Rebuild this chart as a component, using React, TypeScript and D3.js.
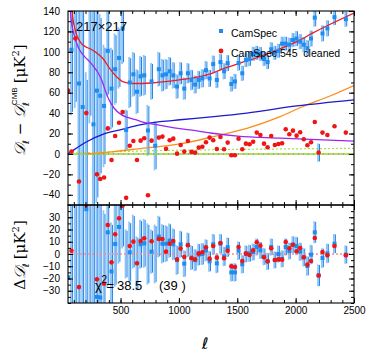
import { useEffect, useRef } from 'react'
import * as d3 from 'd3'

// multipole bins
const ells = [50, 80, 113, 144, 176, 207, 238, 268, 298, 326, 359, 391, 423, 454, 487, 518, 548, 579, 610, 641,
  672, 703, 735, 766, 797, 828, 859, 890, 921, 952, 984, 1015, 1046, 1077, 1108, 1139, 1170, 1201, 1232, 1263,
  1294, 1325, 1356, 1387, 1418, 1449, 1480, 1511, 1543, 1574, 1605, 1636, 1667, 1698, 1729, 1760, 1791, 1822, 1853, 1884,
  1915, 1946, 1977, 2008, 2039, 2070, 2101, 2132, 2164, 2197, 2230, 2272, 2333, 2430]

// top panel: D_l - D_l^CMB
const camSpec: (number | null)[] = [null, 102, 165, 69, 46, -70, 180, 29, 62, 57, 47, 101, 64, 83, 94, 123, 23.5, 70, 78, 61,
  76, 77, 23, 71, 8, 83, 77, 78, 81, 77, 66, 79, 64, 79, 72.5, 68, 72.5, 74, 82, 74,
  88, 72.5, 90, 81, 89, 68.5, 71, 89, 79, 92, 93, 98, 99, 98, 93, 90, 102.5, 99, 101, 108,
  108, 107, 111.6, 113, 110, 107, 103.5, 113, 133.5, null, 118, 123, 134, 132]
const cleaned545: (number | null)[] = [62, 2.3, 113, -27, null, 40, null, null, -20, -24.5, -23, 25, -6, 17.6, 30.6, 41, -43, 8, 12.7, -6,
  13, 15.4, -40.4, 13, null, 16, 17, 5, 13.4, 15, 0.3, 8.8, 2.3, 12.7, 2, 1.3, 6.2, 7, 11.5, 16,
  13.4, 4.9, 16.6, 4.6, 11.1, -1.3, -1.3, 15, 4.6, 10.1, 9.5, 12, 20.9, 18.6, 10.1, 6.6, 17.6, 8.8, 9.8, 10.5,
  24.2, 19.3, 22.8, 17.9, 21.2, 14.4, 8.5, 11.5, 31.3, 1.3, 20.9, 18.6, 27.1, 20.9]
const errors = [0, 64, 120, 150, 150, 150, 150, 150, 110, 80, 60, 45, 40, 35, 30, 35, 20, 25, 22, 22,
  20, 20, 25, 18, 24, 17, 16, 15, 14, 13, 12, 11, 11, 10, 10, 9, 9, 9, 9, 8.5,
  8.5, 8, 8, 8, 8, 7.5, 7.5, 7.5, 7.5, 7, 7, 7, 7, 7, 7, 7, 7, 7, 7, 7,
  7, 7, 7, 7.5, 7.5, 7.5, 8, 8, 9, 9, 8, 8, 8, 7.5]

// bottom panel: residuals
const resCamSpec: (number | null)[] = [-19, null, null, null, null, 36.6, null, null, -35, -35.5, null, 17.7, -14.2, 8.2, 22.1, null, null, 1.4, null, null,
  7.9, 8.7, null, 1.9, null, 14.2, 8.4, 8.4, 10.9, 7.9, -5, 7.9, -7.9, 7.5, -3, -5, -0.5, 0, 3, -6,
  7.9, -7.6, 8.4, -2, 5.5, -15, -15, 2.7, -8.4, 0, 0.5, 1.6, 5.7, 3, -2.2, -6, 5.7, -4.9, 0, -4,
  5.7, 2.4, 7.6, 6.5, 1.9, -2.7, -9.8, -0.5, 17.7, -17.5, -3.3, 0.5, 8.4, -0.5]
const resCleaned: (number | null)[] = [null, 2.7, null, -27, null, 40, null, null, -20.7, null, -24.3, 23.7, -6.8, 16.1, 29.2, 39.5, null, 6.5, 10.1, -7.6,
  10.6, 12.8, null, 10.4, null, 12.3, 12.3, 1.9, 8.4, 10.6, -4.4, 4.4, -2.5, 7.1, -3.5, -4.4, 0.5, 1.4, 5.5, -3.8,
  6.5, -3, 9, -3.5, 2.7, -10.1, -10.6, 5.7, -5.7, 0.5, -0.8, 3, 9.6, 6.8, -2.7, -6, 4.6, -4.9, -4.4, -4.6,
  9.8, 4.6, 7.6, 2.2, 4.9, -2.7, -8.7, -5.7, 13.1, -17.5, 1.6, -1.1, 6.5, -1.1]

// foreground model curves [ell, D_l]
const totalModel: [number, number][] = [[84, 150], [90, 135], [110, 122], [153, 110], [200, 105], [239, 103], [296, 99],
  [353, 93], [405, 84], [467, 75.5], [524, 70.5], [610, 69], [760, 69.5], [861, 70.5], [1004, 72.5], [1147, 75],
  [1284, 79], [1393, 84], [1536, 89.4], [1679, 94.7], [1822, 101], [2010, 110], [2153, 118.8], [2296, 127], [2500, 138]]
const dustModel: [number, number][] = [[68, 150], [74, 135], [101, 117], [144, 103], [187, 96], [239, 90], [273, 85],
  [305, 80], [340, 72], [370, 62], [401, 53], [444, 45], [500, 39], [553, 36], [630, 33.5], [700, 31], [840, 28],
  [960, 25.5], [1095, 23.5], [1270, 20.5], [1503, 17.5], [1867, 15.5], [2500, 12.5]]
const cibModel: [number, number][] = [[50, 0], [100, 4], [210, 12], [353, 19.5], [496, 23.5], [667, 28.4], [839, 31.6],
  [1010, 33.5], [1300, 36.5], [1582, 40], [2010, 47], [2500, 53]]
const psModel: [number, number][] = [[200, 0], [444, 2.3], [650, 5], [1010, 9.8], [1296, 17], [1582, 25], [1867, 36.5],
  [2053, 46], [2300, 57], [2500, 67]]
const szModel: [number, number][] = [[50, 0.5], [300, 1.5], [700, 3], [1200, 4], [1800, 4.8], [2500, 5.5]]
const zeroLine: [number, number][] = [[50, 0], [2500, 0]]

const xMajor = [500, 1000, 1500, 2000, 2500]
const topLabels = [-40, -20, 0, 20, 40, 60, 80, 100, 120, 140]
const botLabels = [-30, -20, -10, 0, 10, 20, 30]

const FONT = 'Liberation Sans, Arial, sans-serif'

const App = () => {
  const svgRef = useRef<SVGSVGElement>(null)

  useEffect(() => {
    const svg = d3.select(svgRef.current)
    svg.selectAll('*').remove()

    const left = 68, right = 354
    const topY0 = 11, topY1 = 205, botY1 = 303

    const x = d3.scaleLinear().domain([50, 2500]).range([left, right])
    const yTop = d3.scaleLinear().domain([-50, 140]).range([topY1, topY0])
    const yBot = d3.scaleLinear().domain([-40, 40]).range([botY1, topY1])

    const defs = svg.append('defs')
    defs.append('clipPath').attr('id', 'clipTop').append('rect')
      .attr('x', left).attr('y', topY0).attr('width', right - left).attr('height', topY1 - topY0)
    defs.append('clipPath').attr('id', 'clipBot').append('rect')
      .attr('x', left).attr('y', topY1).attr('width', right - left).attr('height', botY1 - topY1)

    const drawPanel = (
      y: d3.ScaleLinear<number, number>, clip: string,
      blue: (number | null)[], red: (number | null)[], fallback: number
    ) => {
      const g = svg.append('g').attr('clip-path', `url(#${clip})`)
      ells.forEach((l, i) => {
        const e = errors[i]
        if (!e) return
        const c = blue[i] ?? red[i] ?? fallback
        g.append('line')
          .attr('x1', x(l) - 0.6).attr('x2', x(l) - 0.6)
          .attr('y1', y(c - e)).attr('y2', y(c + e))
          .attr('stroke', '#8cc6f6').attr('stroke-width', 1.8)
        g.append('line')
          .attr('x1', x(l) + 0.9).attr('x2', x(l) + 0.9)
          .attr('y1', y(c - e * 0.95)).attr('y2', y(c + e * 0.95))
          .attr('stroke', '#2680e6').attr('stroke-width', 1)
      })
      return g
    }

    // ---- top panel
    const gTop = drawPanel(yTop, 'clipTop', camSpec, cleaned545, 45)
    const line = d3.line<[number, number]>()
      .x(d => x(d[0])).y(d => yTop(d[1])).curve(d3.curveMonotoneX)

    gTop.append('path').datum(zeroLine).attr('d', line).attr('fill', 'none')
      .attr('stroke', '#86e01e').attr('stroke-width', 1.6)
    gTop.append('path').datum(zeroLine).attr('d', line).attr('fill', 'none')
      .attr('stroke', '#ff30ff').attr('stroke-width', 1).attr('stroke-dasharray', '1,4')
    gTop.append('path').datum(szModel).attr('d', line).attr('fill', 'none')
      .attr('stroke', '#9be04a').attr('stroke-width', 1.2).attr('stroke-dasharray', '2,2')
    gTop.append('path').datum(psModel).attr('d', line).attr('fill', 'none')
      .attr('stroke', '#ff8c1a').attr('stroke-width', 1.3)
    gTop.append('path').datum(cibModel).attr('d', line).attr('fill', 'none')
      .attr('stroke', '#1a1acc').attr('stroke-width', 1.3)
    gTop.append('path').datum(dustModel).attr('d', line).attr('fill', 'none')
      .attr('stroke', '#9a28f0').attr('stroke-width', 1.3)
    gTop.append('path').datum(totalModel).attr('d', line).attr('fill', 'none')
      .attr('stroke', '#ee1c24').attr('stroke-width', 1.3)

    const drawPoints = (g: d3.Selection<SVGGElement, unknown, null, undefined>,
      y: d3.ScaleLinear<number, number>, blue: (number | null)[], red: (number | null)[]) => {
      ells.forEach((l, i) => {
        const b = blue[i]
        if (b == null) return
        g.append('rect').attr('x', x(l) - 2).attr('y', y(b) - 2)
          .attr('width', 4).attr('height', 4).attr('fill', '#1e8cf0')
      })
      ells.forEach((l, i) => {
        const r = red[i]
        if (r == null) return
        g.append('circle').attr('cx', x(l)).attr('cy', y(r)).attr('r', 2.3).attr('fill', '#f01414')
      })
    }
    drawPoints(gTop as any, yTop, camSpec, cleaned545)

    // ---- bottom panel
    const gBot = drawPanel(yBot, 'clipBot', resCamSpec, resCleaned, 0)
    gBot.append('line').attr('x1', left).attr('x2', right)
      .attr('y1', yBot(0)).attr('y2', yBot(0))
      .attr('stroke', '#f59090').attr('stroke-width', 1.6).attr('stroke-dasharray', '2,2')
    drawPoints(gBot as any, yBot, resCamSpec, resCleaned)

    // ---- axes
    const addAxis = (axis: d3.Axis<d3.NumberValue>, tx: number, ty: number) => {
      const g = svg.append('g').attr('transform', `translate(${tx},${ty})`).call(axis)
      g.select('.domain').remove()
      g.attr('font-family', FONT).attr('font-size', 10)
      g.selectAll('text').attr('fill', '#000')
      return g
    }
    const none = () => ''
    const xMinor = d3.range(100, 2501, 100)

    // top panel
    addAxis(d3.axisLeft(yTop).tickValues(topLabels).tickSize(-5).tickPadding(8).tickFormat(d3.format('d')), left, 0)
    addAxis(d3.axisLeft(yTop).tickValues(d3.range(-50, 141, 10)).tickSize(-3).tickFormat(none), left, 0)
    addAxis(d3.axisRight(yTop).tickValues(topLabels).tickSize(-5).tickFormat(none), right, 0)
    addAxis(d3.axisRight(yTop).tickValues(d3.range(-50, 141, 10)).tickSize(-3).tickFormat(none), right, 0)
    addAxis(d3.axisTop(x).tickValues(xMajor).tickSize(-5).tickFormat(none), 0, topY0)
    addAxis(d3.axisTop(x).tickValues(xMinor).tickSize(-3).tickFormat(none), 0, topY0)
    addAxis(d3.axisBottom(x).tickValues(xMajor).tickSize(-5).tickFormat(none), 0, topY1)
    addAxis(d3.axisBottom(x).tickValues(xMinor).tickSize(-3).tickFormat(none), 0, topY1)

    // bottom panel
    addAxis(d3.axisLeft(yBot).tickValues(botLabels).tickSize(-5).tickPadding(8).tickFormat(d3.format('d')), left, 0)
    addAxis(d3.axisLeft(yBot).tickValues(d3.range(-40, 41, 5)).tickSize(-3).tickFormat(none), left, 0)
    addAxis(d3.axisRight(yBot).tickValues(botLabels).tickSize(-5).tickFormat(none), right, 0)
    addAxis(d3.axisRight(yBot).tickValues(d3.range(-40, 41, 5)).tickSize(-3).tickFormat(none), right, 0)
    addAxis(d3.axisTop(x).tickValues(xMajor).tickSize(-5).tickFormat(none), 0, topY1)
    addAxis(d3.axisTop(x).tickValues(xMinor).tickSize(-3).tickFormat(none), 0, topY1)
    addAxis(d3.axisBottom(x).tickValues(xMajor).tickSize(-5).tickPadding(4).tickFormat(d3.format('d')), 0, botY1)
    addAxis(d3.axisBottom(x).tickValues(xMinor).tickSize(-3).tickFormat(none), 0, botY1)

    // frames
    svg.append('rect').attr('x', left).attr('y', topY0).attr('width', right - left).attr('height', topY1 - topY0)
      .attr('fill', 'none').attr('stroke', '#000').attr('stroke-width', 1.1)
    svg.append('rect').attr('x', left).attr('y', topY1).attr('width', right - left).attr('height', botY1 - topY1)
      .attr('fill', 'none').attr('stroke', '#000').attr('stroke-width', 1.1)

    // labels
    svg.append('text').attr('x', 76).attr('y', 31).attr('font-family', FONT).attr('font-size', 13).text('217×217')

    svg.append('rect').attr('x', 219).attr('y', 29).attr('width', 4).attr('height', 4).attr('fill', '#1e8cf0')
    svg.append('text').attr('x', 231).attr('y', 37).attr('font-family', FONT).attr('font-size', 10.5).text('CamSpec')
    svg.append('circle').attr('cx', 221).attr('cy', 51).attr('r', 2.4).attr('fill', '#f01414')
    svg.append('text').attr('x', 231).attr('y', 57).attr('font-family', FONT).attr('font-size', 10.5)
      .attr('xml:space', 'preserve').text('CamSpec 545  cleaned')

    const chi = svg.append('text').attr('y', 290).attr('font-family', FONT).attr('font-size', 13)
    chi.append('tspan').attr('x', 95).text('χ')
    chi.append('tspan').attr('x', 101.5).attr('dy', -7).attr('font-size', 10).text('2')
    chi.append('tspan').attr('x', 106.5).attr('dy', 7).text('=')
    chi.append('tspan').attr('x', 117).text('38.5')
    chi.append('tspan').attr('x', 159).text('(39 )')

    const MATH = 'DejaVu Serif, DejaVu Sans, serif'
    const yl = svg.append('text').attr('transform', 'translate(25,100) rotate(-90)')
      .attr('text-anchor', 'middle').attr('font-family', MATH).attr('font-size', 15)
    yl.append('tspan').attr('font-style', 'italic').text('𝒟')
    yl.append('tspan').attr('font-size', 9).attr('dy', 4).attr('font-style', 'italic').text('ℓ')
    yl.append('tspan').attr('dy', -4).text(' − ')
    yl.append('tspan').attr('font-style', 'italic').text('𝒟')
    yl.append('tspan').attr('font-size', 9).attr('dy', 4).attr('font-style', 'italic').text('ℓ')
    yl.append('tspan').attr('font-size', 8).attr('dx', -3).attr('dy', -12).attr('font-family', FONT).text('CMB')
    yl.append('tspan').attr('dy', 8).attr('dx', 4).text('[μK')
    yl.append('tspan').attr('font-size', 10).attr('dy', -6).text('2')
    yl.append('tspan').attr('dy', 6).text(']')

    const bl = svg.append('text').attr('transform', 'translate(25,255) rotate(-90)')
      .attr('text-anchor', 'middle').attr('font-family', MATH).attr('font-size', 15)
    bl.append('tspan').text('Δ')
    bl.append('tspan').attr('font-style', 'italic').text('𝒟')
    bl.append('tspan').attr('font-size', 9).attr('dy', 4).attr('font-style', 'italic').text('ℓ')
    bl.append('tspan').attr('dy', -4).attr('dx', 4).text('[μK')
    bl.append('tspan').attr('font-size', 10).attr('dy', -6).text('2')
    bl.append('tspan').attr('dy', 6).text(']')

    svg.append('text').attr('x', 205).attr('y', 349).attr('text-anchor', 'middle')
      .attr('font-family', MATH).attr('font-style', 'italic').attr('font-size', 16).text('ℓ')
  }, [])

  return (
    <svg ref={svgRef} width={373} height={357}
      style={{ position: 'absolute', left: 0, top: 0, background: '#fff' }} />
  )
}

export default App
